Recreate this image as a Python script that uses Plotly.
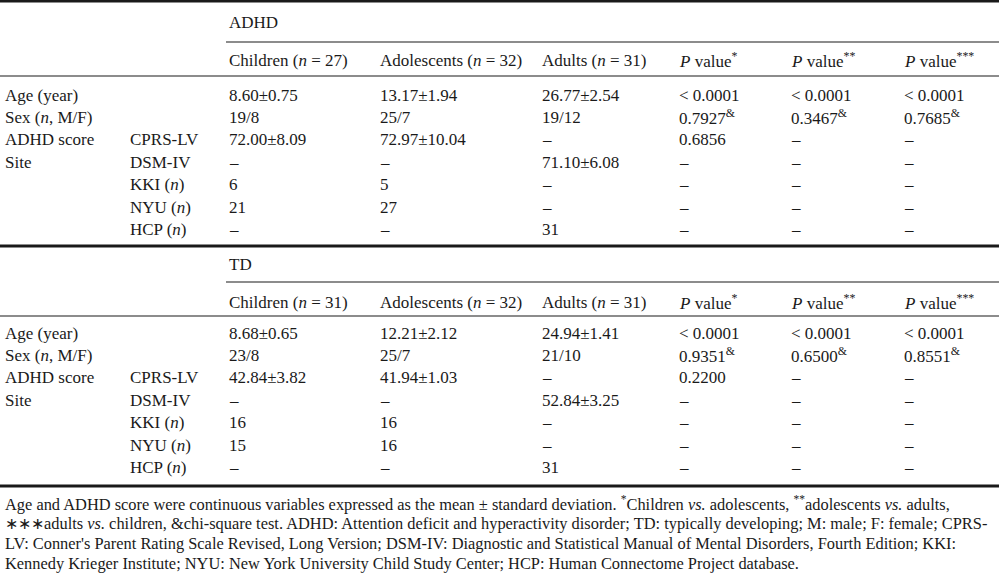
import plotly.graph_objects as go

# ---------------- data ----------------
groups = ["ADHD", "TD"]
group_n = {"ADHD": [27, 32, 31], "TD": [31, 32, 31]}
age_groups = ["Children", "Adolescents", "Adults"]
p_headers = ["<i>P</i> value<sup>*</sup>", "<i>P</i> value<sup>**</sup>", "<i>P</i> value<sup>***</sup>"]

row_labels = ["Age (year)", "Sex (<i>n</i>, M/F)", "ADHD score", "Site", "", "", ""]
sub_labels = ["", "", "CPRS-LV", "DSM-IV", "KKI (<i>n</i>)", "NYU (<i>n</i>)", "HCP (<i>n</i>)"]

adhd_children = ["8.60±0.75", "19/8", "72.00±8.09", "–", "6", "21", "–"]
adhd_adolescents = ["13.17±1.94", "25/7", "72.97±10.04", "–", "5", "27", "–"]
adhd_adults = ["26.77±2.54", "19/12", "–", "71.10±6.08", "–", "–", "31"]
adhd_p1 = ["< 0.0001", "0.7927<sup>&amp;</sup>", "0.6856", "–", "–", "–", "–"]
adhd_p2 = ["< 0.0001", "0.3467<sup>&amp;</sup>", "–", "–", "–", "–", "–"]
adhd_p3 = ["< 0.0001", "0.7685<sup>&amp;</sup>", "–", "–", "–", "–", "–"]

td_children = ["8.68±0.65", "23/8", "42.84±3.82", "–", "16", "15", "–"]
td_adolescents = ["12.21±2.12", "25/7", "41.94±1.03", "–", "16", "16", "–"]
td_adults = ["24.94±1.41", "21/10", "–", "52.84±3.25", "–", "–", "31"]
td_p1 = ["< 0.0001", "0.9351<sup>&amp;</sup>", "0.2200", "–", "–", "–", "–"]
td_p2 = ["< 0.0001", "0.6500<sup>&amp;</sup>", "–", "–", "–", "–", "–"]
td_p3 = ["< 0.0001", "0.8551<sup>&amp;</sup>", "–", "–", "–", "–", "–"]

footnote_lines = [
    "Age and ADHD score were continuous variables expressed as the mean ± standard deviation. <sup>*</sup>Children <i>vs.</i> adolescents, <sup>**</sup>adolescents <i>vs.</i> adults,",
    "∗∗∗adults <i>vs.</i> children, &amp;chi-square test. ADHD: Attention deficit and hyperactivity disorder; TD: typically developing; M: male; F: female; CPRS-",
    "LV: Conner's Parent Rating Scale Revised, Long Version; DSM-IV: Diagnostic and Statistical Manual of Mental Disorders, Fourth Edition; KKI:",
    "Kennedy Krieger Institute; NYU: New York University Child Study Center; HCP: Human Connectome Project database.",
]

# ---------------- layout parameters ----------------
W, H = 999, 573
FONT = "Liberation Serif, Times New Roman, serif"
FS = 17
FS_FOOT = 16.4
INK = "#1a1a1a"
col_x = [4, 129, 228, 379, 541, 678, 790, 903]

sections = [
    dict(name="ADHD", top=1, title_y=22, rule_y=42, head_y=60, head_rule=76, row0=95, step=22.4,
         cols=[adhd_children, adhd_adolescents, adhd_adults, adhd_p1, adhd_p2, adhd_p3]),
    dict(name="TD", top=246, title_y=264, rule_y=282, head_y=302, head_rule=316, row0=333, step=22.4,
         cols=[td_children, td_adolescents, td_adults, td_p1, td_p2, td_p3]),
]
bottom_rule = 486
foot_y0, foot_step = 503, 20.0

fig = go.Figure()
ann = []
shapes = []


def text(x, y, s, size=FS):
    ann.append(dict(x=x, y=y, xref="x", yref="y", text=s, showarrow=False,
                    xanchor="left", yanchor="middle", align="left", borderpad=0,
                    font=dict(family=FONT, size=size, color=INK)))


def hline(x0, x1, y, w):
    shapes.append(dict(type="line", xref="x", yref="y", x0=x0, x1=x1, y0=y, y1=y,
                       line=dict(color=INK, width=w)))


for sec in sections:
    hline(0, W, sec["top"], 3)
    text(col_x[2], sec["title_y"], sec["name"])
    hline(226, W, sec["rule_y"], 1.2)
    ns = group_n[sec["name"]]
    for i, g in enumerate(age_groups):
        text(col_x[2 + i], sec["head_y"], f"{g} (<i>n</i> = {ns[i]})")
    for i, p in enumerate(p_headers):
        text(col_x[5 + i], sec["head_y"], p)
    hline(0, W, sec["head_rule"], 1.2)
    for r in range(len(row_labels)):
        y = sec["row0"] + r * sec["step"]
        if row_labels[r]:
            text(col_x[0], y, row_labels[r])
        if sub_labels[r]:
            text(col_x[1], y, sub_labels[r])
        for c, col in enumerate(sec["cols"]):
            text(col_x[2 + c], y, col[r])

hline(0, W, bottom_rule, 3)
for i, line in enumerate(footnote_lines):
    text(4, foot_y0 + i * foot_step, line, size=FS_FOOT)

fig.update_layout(
    width=W, height=H, margin=dict(l=0, r=0, t=0, b=0),
    paper_bgcolor="white", plot_bgcolor="white",
    xaxis=dict(range=[0, W], visible=False, fixedrange=True),
    yaxis=dict(range=[H, 0], visible=False, fixedrange=True),
    annotations=ann, shapes=shapes, showlegend=False,
)
fig.write_html(
    "out.html",
    config={"displayModeBar": False},
    post_script="document.body.style.margin='0px';document.body.style.overflow='hidden';",
)
